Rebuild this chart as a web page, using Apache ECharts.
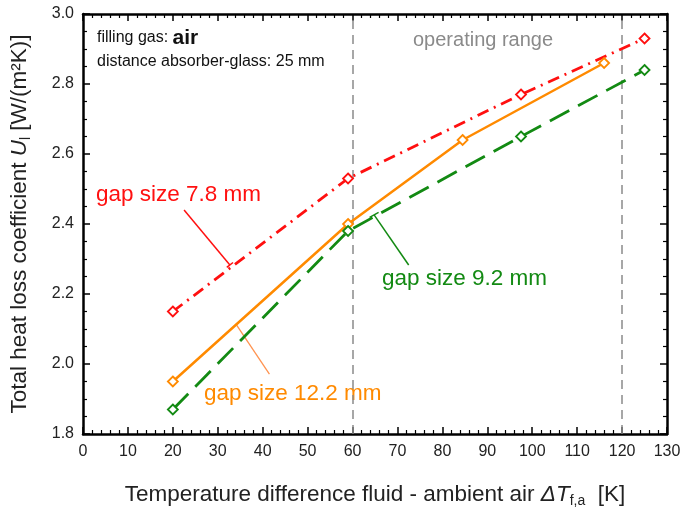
<!DOCTYPE html>
<html>
<head>
<meta charset="utf-8">
<script src="https://cdn.jsdelivr.net/npm/echarts@6/dist/echarts.min.js"></script>
<style>
  html, body { margin: 0; padding: 0; background: #fff; }
  #chart { width: 684px; height: 514px; }
</style>
</head>
<body>
<div id="chart"></div>
<script>
// measured points [deltaT (K), U_l (W/(m2K))]
const gap78 = [[20, 2.15], [59, 2.53], [97.5, 2.77], [125, 2.93]];
const gap122 = [[20, 1.95], [59, 2.40], [84.5, 2.64], [116, 2.86]];
const gap92 = [[20, 1.87], [59, 2.38], [97.5, 2.65], [125, 2.84]];

// operating range limits
const rangeBounds = [60, 120];

// leader lines of the labels, in data coordinates
const lead78 = [[22.5, 2.44], [32.7, 2.283]];
const tick78 = [[32.0, 2.276], [33.4, 2.290]];
const lead122 = [[34.2, 2.111], [41.5, 1.971]];
const lead92 = [[64.8, 2.426], [72.5, 2.283]];
const tick92 = [[63.8, 2.419], [65.8, 2.433]];

const FONT = "'Liberation Sans', Arial, Helvetica, sans-serif";
const RED = '#ff1010';
const ORANGE = '#ff8a00';
const GREEN = '#138a13';

const chart = echarts.init(document.getElementById('chart'));

function frameX(pos, labels) {
  return {
    type: 'value',
    position: pos,
    min: 0,
    max: 130,
    interval: 10,
    axisLine: { onZero: false, lineStyle: { color: '#000', width: 2.5 } },
    axisTick: { show: true, inside: true, length: 7, lineStyle: { color: '#000', width: 1.5 } },
    minorTick: { show: true, splitNumber: 5, length: 4, lineStyle: { color: '#000', width: 1.2 } },
    splitLine: { show: false },
    axisLabel: { show: labels, fontSize: 16, color: '#222', fontFamily: FONT, margin: 10 }
  };
}

function frameY(pos, labels) {
  return {
    type: 'value',
    position: pos,
    min: 1.8,
    max: 3.0,
    interval: 0.2,
    axisLine: { onZero: false, lineStyle: { color: '#000', width: 2.5 } },
    axisTick: { show: true, inside: true, length: 7, lineStyle: { color: '#000', width: 1.5 } },
    minorTick: { show: true, splitNumber: 4, length: 4, lineStyle: { color: '#000', width: 1.2 } },
    splitLine: { show: false },
    axisLabel: {
      show: labels, fontSize: 16, color: '#222', fontFamily: FONT, margin: 9,
      formatter: v => v.toFixed(1)
    }
  };
}

const titleRich = {
  t: { fontSize: 22.5, color: '#222', fontFamily: FONT, lineHeight: 26 },
  it: { fontSize: 22.5, color: '#222', fontFamily: FONT, fontStyle: 'italic', lineHeight: 26 },
  s: { fontSize: 14, color: '#222', fontFamily: FONT, lineHeight: 14, verticalAlign: 'bottom' }
};

const xBottom = frameX('bottom', true);
xBottom.name = '{t|Temperature difference fluid - ambient air }{it|ΔT}{s|f,a}{t|  [K]}';
xBottom.nameLocation = 'middle';
xBottom.nameGap = 48;
xBottom.nameTextStyle = { rich: titleRich };

const yLeft = frameY('left', true);
yLeft.name = '{t|Total heat loss coefficient }{it|U}{s|l}{t| [W/(m²K)]}';
yLeft.nameLocation = 'middle';
yLeft.nameRotate = 90;
yLeft.nameGap = 50;
yLeft.nameTextStyle = { rich: titleRich };

function curve(name, data, color, dash, width) {
  return {
    name: name,
    type: 'line',
    data: data,
    symbol: 'diamond',
    symbolSize: 10,
    z: 5,
    lineStyle: { color: color, width: width, type: dash },
    itemStyle: { color: '#fff', borderColor: color, borderWidth: 1.8 },
    emphasis: { disabled: true },
    animation: false
  };
}

function leader(data, color, width) {
  return {
    type: 'line',
    data: data,
    symbol: 'none',
    silent: true,
    z: 4,
    lineStyle: { color: color, width: width, type: 'solid' },
    animation: false
  };
}

const option = {
  backgroundColor: '#fff',
  animation: false,
  grid: { left: 83, right: 17, top: 14, bottom: 80, containLabel: false },
  xAxis: [xBottom, frameX('top', false)],
  yAxis: [yLeft, frameY('right', false)],
  series: [
    {
      // operating range limits
      type: 'line',
      data: [],
      z: 1,
      markLine: {
        silent: true,
        symbol: 'none',
        label: { show: false },
        lineStyle: { color: '#8a8a8a', width: 1.5, type: [9, 6] },
        data: rangeBounds.map(v => ({ xAxis: v }))
      }
    },
    curve('gap size 7.8 mm', gap78, RED, [12, 6, 2, 6], 2.8),
    curve('gap size 12.2 mm', gap122, ORANGE, 'solid', 2.5),
    curve('gap size 9.2 mm', gap92, GREEN, [22, 10], 2.8),
    leader(lead78, RED, 1.5),
    leader(tick78, RED, 1.5),
    leader(lead122, '#ff9350', 1.3),
    leader(lead92, GREEN, 1.5),
    leader(tick92, GREEN, 1.5)
  ],
  graphic: [
    {
      type: 'text', x: 97, y: 38,
      style: {
        text: '{n|filling gas: }{b|air}',
        verticalAlign: 'middle',
        rich: {
          n: { fontSize: 16, fill: '#111', fontFamily: FONT },
          b: { fontSize: 21, fontWeight: 'bold', fill: '#111', fontFamily: FONT }
        }
      }
    },
    {
      type: 'text', x: 97, y: 62,
      style: { text: 'distance absorber-glass: 25 mm', fontSize: 16, fill: '#111', fontFamily: FONT, verticalAlign: 'middle' }
    },
    {
      type: 'text', x: 413, y: 40,
      style: { text: 'operating range', fontSize: 20, fill: '#8a8a8a', fontFamily: FONT, verticalAlign: 'middle' }
    },
    {
      type: 'text', x: 96, y: 195,
      style: { text: 'gap size 7.8 mm', fontSize: 22.5, fill: RED, fontFamily: FONT, verticalAlign: 'middle' }
    },
    {
      type: 'text', x: 204, y: 394,
      style: { text: 'gap size 12.2 mm', fontSize: 22.5, fill: ORANGE, fontFamily: FONT, verticalAlign: 'middle' }
    },
    {
      type: 'text', x: 382, y: 279,
      style: { text: 'gap size 9.2 mm', fontSize: 22.5, fill: GREEN, fontFamily: FONT, verticalAlign: 'middle' }
    }
  ]
};

chart.setOption(option);
</script>
</body>
</html>
